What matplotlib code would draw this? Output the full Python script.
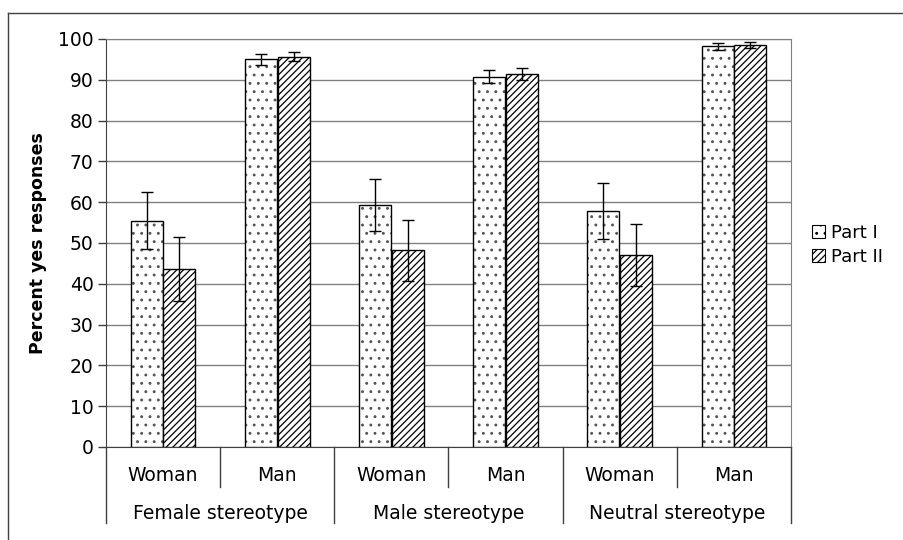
import matplotlib
matplotlib.use("Agg")
import matplotlib.pyplot as plt
from matplotlib.lines import Line2D
from matplotlib.patches import Patch
import numpy as np

plt.rcParams['font.family'] = ['DejaVu Sans']
plt.rcParams['hatch.linewidth'] = 0.9

sub_labels = ["Woman", "Man", "Woman", "Man", "Woman", "Man"]
group_labels = ["Female stereotype", "Male stereotype", "Neutral stereotype"]
series_names = ["Part I", "Part II"]
part1 = [55.5, 95.0, 59.3, 90.8, 57.8, 98.2]
part1_err = [7.0, 1.3, 6.3, 1.6, 6.8, 0.9]
part2 = [43.7, 95.7, 48.2, 91.5, 47.0, 98.5]
part2_err = [7.8, 1.1, 7.4, 1.5, 7.6, 0.7]
yticks = list(range(0, 101, 10))

FS = 13.5

fig = plt.figure(figsize=(9.04, 5.40), dpi=100)
W, H = 904, 540
ax = fig.add_axes([106 / W, 1 - 447 / H, (791 - 106) / W, (447 - 39) / H])

x = np.arange(len(sub_labels))
bw = 0.28
off = 0.143
ekw = dict(ecolor="black", elinewidth=1.0, capsize=4.5, capthick=1.0)
# Part I: grey dotted fill, then black outline with error bars
ax.bar(x - off, part1, bw, color="white", edgecolor="#555555",
       hatch="..", linewidth=0, zorder=3)
ax.bar(x - off, part1, bw, yerr=part1_err, fill=False, edgecolor="black",
       linewidth=1.0, error_kw=ekw, label=series_names[0], zorder=3)
ax.bar(x + off, part2, bw, yerr=part2_err, color="white", edgecolor="black",
       hatch="/////", linewidth=1.0, error_kw=ekw, label=series_names[1], zorder=3)

ax.set_xlim(-0.5, len(sub_labels) - 0.5)
ax.set_ylim(0, 100)
ax.set_yticks(yticks)
ax.set_yticklabels([str(t) for t in yticks], fontsize=FS)
ax.tick_params(axis="y", direction="out", length=6, width=1, color="#404040", pad=3)
ax.set_xticks([])
ax.grid(axis="y", color="#808080", linewidth=1.0, zorder=0)
ax.set_axisbelow(True)
for s in ["top", "right"]:
    ax.spines[s].set_color("#808080")
ax.spines["left"].set_color("#404040")
ax.spines["bottom"].set_color("#404040")
ax.set_ylabel("Percent yes responses", fontsize=12.5, fontweight="bold", labelpad=8)

trans = ax.get_xaxis_transform()
for i, lab in enumerate(sub_labels):
    ax.text(i, -0.070, lab, transform=trans, ha="center", va="center", fontsize=FS)
for g, lab in enumerate(group_labels):
    ax.text(2 * g + 0.5, -0.162, lab, transform=trans, ha="center", va="center", fontsize=FS)
for b in [0.5, 2.5, 4.5]:
    ax.add_line(Line2D([b, b], [0, -0.098], transform=trans, color="#404040", lw=1, clip_on=False))
for b in [-0.5, 1.5, 3.5, 5.5]:
    ax.add_line(Line2D([b, b], [0, -0.186], transform=trans, color="#404040", lw=1, clip_on=False))

handles = [Patch(facecolor="white", edgecolor="black", hatch="..", linewidth=0.8),
           Patch(facecolor="white", edgecolor="black", hatch="/////", linewidth=0.8)]
fig.legend(handles, series_names, loc="center left", bbox_to_anchor=(799 / W, 1 - 245 / H),
           frameon=False, fontsize=13, handlelength=0.75, handleheight=0.75,
           handletextpad=0.3, labelspacing=0.35, borderpad=0.2)

fig.add_artist(Line2D([8 / W, 8 / W], [0, 1 - 13 / H], transform=fig.transFigure, color="#404040", lw=1))
fig.add_artist(Line2D([8 / W, 1], [1 - 13 / H, 1 - 13 / H], transform=fig.transFigure, color="#404040", lw=1))

fig.savefig("out.png", dpi=100)
